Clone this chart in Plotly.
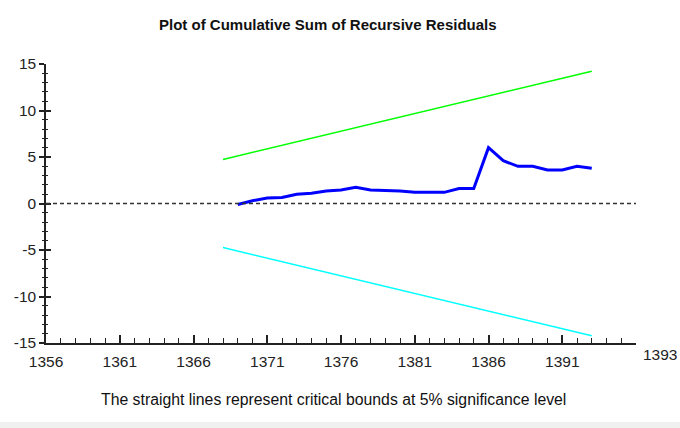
import plotly.graph_objects as go

years = list(range(1369, 1394))
cusum = [-0.1, 0.3, 0.6, 0.65, 1.0, 1.1, 1.35, 1.45, 1.75, 1.45, 1.4, 1.35, 1.2,
         1.2, 1.2, 1.6, 1.6, 6.0, 4.6, 4.0, 4.0, 3.6, 3.6, 4.0, 3.8]
bound_years = [1368, 1393]
upper_bound = [4.74, 14.22]
lower_bound = [-4.74, -14.22]

x_tickvals = [1356, 1361, 1366, 1371, 1376, 1381, 1386, 1391, 1396]
x_ticktext = ["1356", "1361", "1366", "1371", "1376", "1381", "1386", "1391", ""]
y_tickvals = [-15, -10, -5, 0, 5, 10, 15]
y_ticktext = ["-15", "-10", "-5", "0", "5", "10", "15"]

FONT = "Liberation Sans, Arial, sans-serif"

fig = go.Figure()
fig.add_trace(go.Scatter(x=bound_years, y=upper_bound, mode="lines",
                         line=dict(color="#00ff00", width=1.5), showlegend=False))
fig.add_trace(go.Scatter(x=bound_years, y=lower_bound, mode="lines",
                         line=dict(color="#00ffff", width=1.5), showlegend=False))
fig.add_trace(go.Scatter(x=years, y=cusum, mode="lines",
                         line=dict(color="#0000ff", width=3), showlegend=False))
# helper trace so the overlaying axis is drawn
fig.add_trace(go.Scatter(x=[1356], y=[0], yaxis="y2", mode="markers",
                         marker=dict(opacity=0), showlegend=False, hoverinfo="skip"))

fig.add_shape(type="line", xref="x domain", yref="y", x0=0, x1=1, y0=0, y1=0,
              line=dict(color="#333333", width=1.5, dash="4px,3px"))
fig.add_shape(type="rect", xref="paper", yref="paper", x0=-0.2, x1=1.2,
              y0=-0.306, y1=-0.283, fillcolor="#f0f0f0", line=dict(width=0), layer="below")

axis_font = dict(family=FONT, size=15.5, color="#222222")

fig.update_layout(
    width=680, height=428,
    margin=dict(l=46, r=44, t=64, b=85, autoexpand=False),
    paper_bgcolor="white", plot_bgcolor="white",
    xaxis=dict(range=[1356, 1396], tickmode="array", tickvals=x_tickvals, ticktext=x_ticktext,
               ticks="inside", ticklen=8, tickwidth=1.5, tickcolor="#222222",
               minor=dict(tickmode="linear", tick0=1356, dtick=1, ticks="inside", ticklen=5,
                          tickwidth=1.2, tickcolor="#222222", showgrid=False),
               showline=True, linecolor="#222222", linewidth=1.5, showgrid=False,
               zeroline=False, tickfont=axis_font, ticklabelstandoff=4, automargin=False),
    yaxis=dict(range=[-15, 15], tickmode="array", tickvals=y_tickvals, ticktext=y_ticktext,
               ticks="outside", ticklen=5, tickwidth=1.5, tickcolor="#222222",
               minor=dict(tickmode="linear", tick0=-15, dtick=1, ticks="outside", ticklen=2,
                          tickwidth=1.2, tickcolor="#222222", showgrid=False),
               showline=True, linecolor="#222222", linewidth=1.5, showgrid=False,
               zeroline=False, tickfont=axis_font, ticklabelstandoff=0, automargin=False),
    yaxis2=dict(range=[-15, 15], overlaying="y", side="left", tickmode="array",
                tickvals=y_tickvals, ticks="inside", ticklen=5, tickwidth=1.5,
                tickcolor="#222222", showticklabels=False,
                minor=dict(tickmode="linear", tick0=-15, dtick=1, ticks="inside", ticklen=2,
                           tickwidth=1.2, tickcolor="#222222", showgrid=False),
                showline=False, showgrid=False, zeroline=False, automargin=False),
    annotations=[
        dict(text="<b>Plot of Cumulative Sum of Recursive Residuals</b>", xref="paper", yref="paper",
             x=0.478, y=1.14, showarrow=False, xanchor="center", yanchor="middle",
             font=dict(family=FONT, size=15, color="#111111")),
        dict(text="The straight lines represent critical bounds at 5% significance level",
             xref="paper", yref="paper", x=0.488, y=-0.204, showarrow=False,
             xanchor="center", yanchor="middle",
             font=dict(family=FONT, size=15.8, color="#111111")),
        dict(text="1393", xref="paper", yref="paper", x=1.0407, y=-0.043, showarrow=False,
             xanchor="center", yanchor="middle", font=axis_font),
    ],
)

fig.write_html("out.html", config={"displayModeBar": False},
               post_script="document.body.style.margin='0';document.body.style.overflow='hidden';")
